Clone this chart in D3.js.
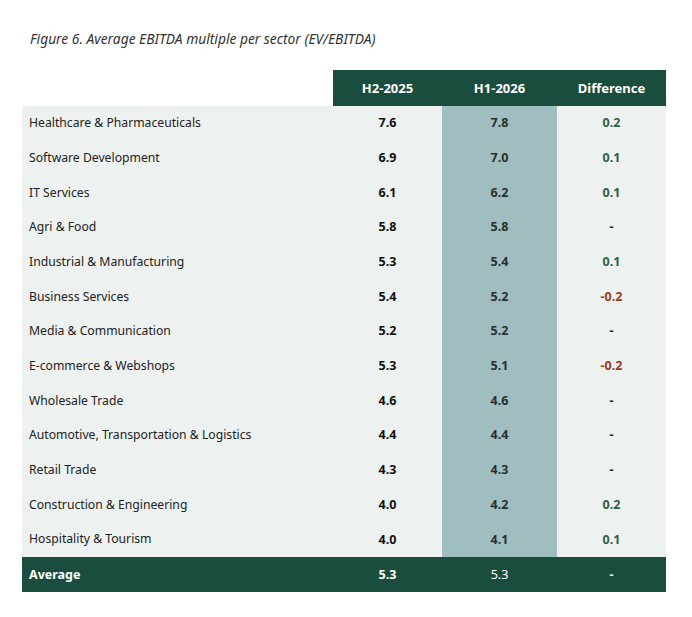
<!DOCTYPE html>
<html>
<head>
<meta charset="utf-8">
<script src="https://cdn.jsdelivr.net/npm/d3@7"></script>
<style>
  body { margin: 0; background: #fff; }
  text { font-family: "Noto Sans", sans-serif; }
</style>
</head>
<body>
<div id="chart"></div>
<script>
var sectors = ["Healthcare & Pharmaceuticals", "Software Development", "IT Services", "Agri & Food",
    "Industrial & Manufacturing", "Business Services", "Media & Communication", "E-commerce & Webshops",
    "Wholesale Trade", "Automotive, Transportation & Logistics", "Retail Trade",
    "Construction & Engineering", "Hospitality & Tourism"];
var h2_2025 = [7.6, 6.9, 6.1, 5.8, 5.3, 5.4, 5.2, 5.3, 4.6, 4.4, 4.3, 4.0, 4.0];
var h1_2026 = [7.8, 7.0, 6.2, 5.8, 5.4, 5.2, 5.2, 5.1, 4.6, 4.4, 4.3, 4.2, 4.1];
var columns = ["H2-2025", "H1-2026", "Difference"];
var average = { label: "Average", h2: 5.3, h1: 5.3 };

var width = 692, height = 617;
var left = 22, right = 666;
var headerTop = 70, headerH = 36;
var bodyTop = headerTop + headerH, bodyBottom = 557;
var avgH = 35;

var dark = "#1a4d3e", light = "#edf1f0", teal = "#a0bec0";

var svg = d3.select("#chart").append("svg")
    .attr("width", width)
    .attr("height", height);

svg.append("text")
    .attr("x", 30).attr("y", 44)
    .attr("font-size", 13.8)
    .attr("font-style", "italic")
    .attr("fill", "#333")
    .text("Figure 6. Average EBITDA multiple per sector (EV/EBITDA)");

var x = d3.scaleOrdinal()
    .domain(columns)
    .range([333, 442, 557]);
var colW = { "H2-2025": 109, "H1-2026": 115, "Difference": 109 };

var y = d3.scaleBand()
    .domain(sectors)
    .range([bodyTop, bodyBottom]);

function fmt(v) { return v.toFixed(1); }
function diff(i) {
    var d = Math.round((h1_2026[i] - h2_2025[i]) * 10) / 10;
    return d;
}
function diffText(d) { return d === 0 ? "-" : fmt(d); }

// body background
svg.append("rect")
    .attr("x", left).attr("y", bodyTop)
    .attr("width", right - left).attr("height", bodyBottom - bodyTop)
    .attr("fill", light);

// highlighted column
svg.append("rect")
    .attr("x", x("H1-2026")).attr("y", bodyTop)
    .attr("width", colW["H1-2026"]).attr("height", bodyBottom - bodyTop)
    .attr("fill", teal);

// header
svg.append("rect")
    .attr("x", x("H2-2025")).attr("y", headerTop)
    .attr("width", right - x("H2-2025")).attr("height", headerH)
    .attr("fill", dark);

svg.append("g").selectAll("text")
    .data(columns)
    .enter().append("text")
    .attr("x", function(d) { return x(d) + colW[d] / 2; })
    .attr("y", headerTop + headerH / 2)
    .attr("dy", "0.35em")
    .attr("text-anchor", "middle")
    .attr("font-size", 13)
    .attr("font-weight", "bold")
    .attr("fill", "#fff")
    .text(function(d) { return d; });

// rows
var rows = svg.append("g").selectAll("g")
    .data(sectors)
    .enter().append("g")
    .attr("transform", function(d) { return "translate(0," + (y(d) + y.bandwidth() / 2 - 0.5) + ")"; });

rows.append("text")
    .attr("x", 29).attr("dy", "0.35em")
    .attr("font-size", 12.2)
    .attr("fill", "#222")
    .text(function(d) { return d; });

rows.append("text")
    .attr("x", x("H2-2025") + colW["H2-2025"] / 2).attr("dy", "0.35em")
    .attr("text-anchor", "middle")
    .attr("font-size", 12.5).attr("font-weight", "bold")
    .attr("fill", "#111")
    .text(function(d, i) { return fmt(h2_2025[i]); });

rows.append("text")
    .attr("x", x("H1-2026") + colW["H1-2026"] / 2).attr("dy", "0.35em")
    .attr("text-anchor", "middle")
    .attr("font-size", 12.5).attr("font-weight", "bold")
    .attr("fill", "#2a2f30")
    .text(function(d, i) { return fmt(h1_2026[i]); });

rows.append("text")
    .attr("x", x("Difference") + colW["Difference"] / 2).attr("dy", "0.35em")
    .attr("text-anchor", "middle")
    .attr("font-size", 12.5).attr("font-weight", "bold")
    .attr("fill", function(d, i) {
        var v = diff(i);
        return v > 0 ? "#2d5e45" : (v < 0 ? "#9a3a1c" : "#222");
    })
    .text(function(d, i) { return diffText(diff(i)); });

// average row
var avgY = bodyBottom;
svg.append("rect")
    .attr("x", left).attr("y", avgY)
    .attr("width", right - left).attr("height", avgH)
    .attr("fill", dark);

var avg = svg.append("g")
    .attr("transform", "translate(0," + (avgY + avgH / 2) + ")");
avg.append("text")
    .attr("x", 29).attr("dy", "0.35em")
    .attr("font-size", 12.5).attr("font-weight", "bold")
    .attr("fill", "#fff")
    .text(average.label);
avg.append("text")
    .attr("x", x("H2-2025") + colW["H2-2025"] / 2).attr("dy", "0.35em")
    .attr("text-anchor", "middle")
    .attr("font-size", 12.5).attr("font-weight", "bold")
    .attr("fill", "#fff")
    .text(fmt(average.h2));
avg.append("text")
    .attr("x", x("H1-2026") + colW["H1-2026"] / 2).attr("dy", "0.35em")
    .attr("text-anchor", "middle")
    .attr("font-size", 12.5)
    .attr("fill", "#fff")
    .text(fmt(average.h1));
avg.append("text")
    .attr("x", x("Difference") + colW["Difference"] / 2).attr("dy", "0.35em")
    .attr("text-anchor", "middle")
    .attr("font-size", 12.5).attr("font-weight", "bold")
    .attr("fill", "#fff")
    .text(diffText(Math.round((average.h1 - average.h2) * 10) / 10));
</script>
</body>
</html>
